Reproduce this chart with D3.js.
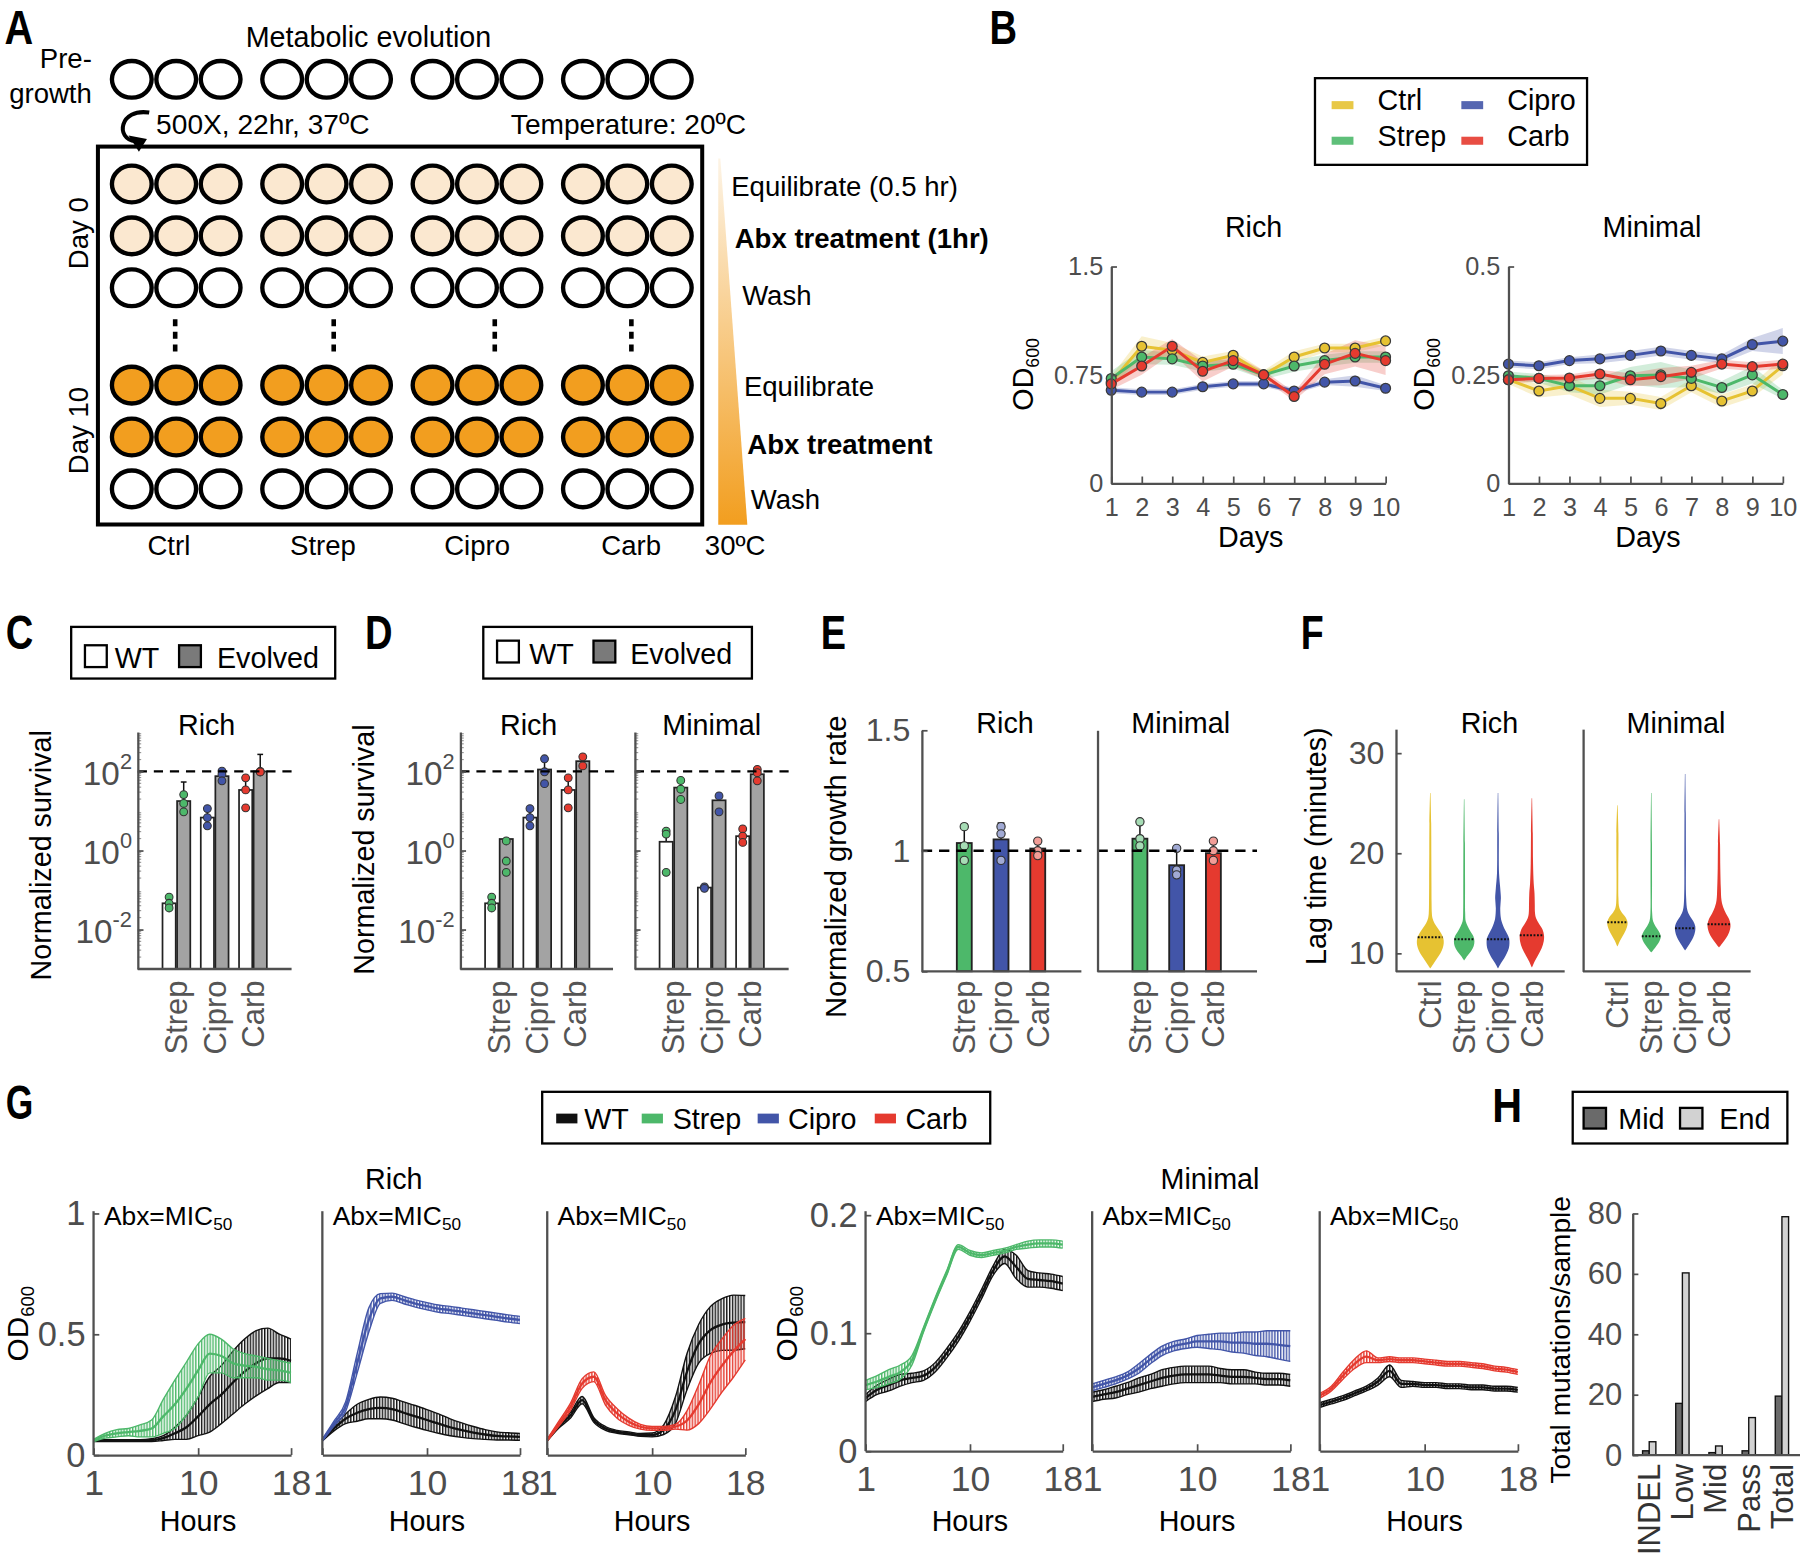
<!DOCTYPE html>
<html><head><meta charset="utf-8">
<script src="https://cdn.jsdelivr.net/npm/d3@7"></script>
<style>
body{margin:0;background:#fff;}
svg{display:block;}
</style></head><body>
<script>
// ================= DATA =================
// Panel A (schematic)
const aGroups=["Ctrl","Strep","Cipro","Carb"];
const aStepLabels=["Equilibrate (0.5 hr)","Abx treatment (1hr)","Wash","Equilibrate","Abx treatment","Wash"];
const aStepBold=[false,true,false,false,true,false];
const aStepFill=["#fbe8d0","#fbe8d0","#ffffff","#f29e1f","#f29e1f","#ffffff"];
const aDayLabels=["Day 0","Day 10"];

// Panel B
const days=[1,2,3,4,5,6,7,8,9,10];
const series4=["Ctrl","Strep","Cipro","Carb"];
const bRichCtrl =[0.70,0.948,0.92,0.837,0.886,0.75,0.874,0.936,0.936,0.985];
const bRichStrep=[0.725,0.874,0.861,0.812,0.824,0.75,0.812,0.849,0.874,0.874];
const bRichCipro=[0.644,0.631,0.631,0.668,0.688,0.688,0.639,0.70,0.708,0.658];
const bRichCarb =[0.688,0.812,0.948,0.775,0.849,0.75,0.601,0.824,0.899,0.849];
const bRichCtrlErr =[0.04,0.07,0.05,0.04,0.03,0.03,0.04,0.03,0.03,0.03];
const bRichStrepErr=[0.05,0.05,0.04,0.04,0.03,0.03,0.04,0.04,0.04,0.04];
const bRichCiproErr=[0.02,0.02,0.02,0.02,0.02,0.02,0.02,0.02,0.04,0.02];
const bRichCarbErr =[0.04,0.06,0.05,0.07,0.04,0.03,0.03,0.07,0.09,0.10];
const bMinCtrl =[0.239,0.213,0.225,0.196,0.196,0.184,0.225,0.19,0.213,0.271];
const bMinStrep=[0.248,0.242,0.225,0.225,0.248,0.25,0.242,0.221,0.25,0.205];
const bMinCipro=[0.275,0.271,0.283,0.287,0.295,0.305,0.295,0.287,0.32,0.328];
const bMinCarb =[0.239,0.242,0.243,0.252,0.239,0.246,0.256,0.275,0.269,0.275];
const bMinCtrlErr =[0.01,0.015,0.02,0.02,0.015,0.015,0.015,0.015,0.015,0.02];
const bMinStrepErr=[0.01,0.01,0.015,0.02,0.02,0.03,0.02,0.015,0.02,0.01];
const bMinCiproErr=[0.008,0.008,0.008,0.01,0.01,0.01,0.01,0.01,0.015,0.03];
const bMinCarbErr =[0.008,0.008,0.008,0.01,0.015,0.02,0.015,0.01,0.01,0.01];

// Panels C, D (normalized survival, log scale)
const abx3=["Strep","Cipro","Carb"];
const cRichWT=[0.046,6.8,34], cRichEvo=[17.8,76,100];
const cRichWTErr=[0.06,11,70], cRichEvoErr=[54,100,270];
const cRichWTDots=[[0.066,0.046,0.035],[11.5,6.8,4.2],[69,34,12]];
const cRichEvoDots=[[26,15.5,9.5],[102,85,58],[98,100,97]];
const dRichWT=[0.046,6.8,34], dRichEvo=[1.95,112,182];
const dRichWTErr=[0.06,11,70], dRichEvoErr=[1.9,230,240];
const dRichWTDots=[[0.066,0.046,0.035],[11.5,6.8,4.2],[69,34,12]];
const dRichEvoDots=[[1.74,0.54,0.28],[209,98,49],[234,138]];
const dMinWT=[1.66,0.115,2.3], dMinEvo=[39,18.6,85];
const dMinWTErr=[3.3,0.125,3.6], dMinEvoErr=[60,25,115];
const dMinWTDots=[[3.1,2.6,0.28],[0.12,0.11],[3.5,2.3,1.6]];
const dMinEvoDots=[[59,35.5,19.5],[24,9.5],[112,93,58]];

// Panel E (normalized growth rate)
const eRich=[1.032,1.047,1.009], eRichErr=[1.11,1.115,1.035];
const eRichDots=[[1.10,1.02,0.96],[1.10,1.07,0.96],[1.04,1.0,0.98]];
const eMin=[1.05,0.94,0.99], eMinErr=[1.12,1.01,1.04];
const eMinDots=[[1.12,1.05,1.02],[1.01,0.92,0.90],[1.04,1.0,0.96]];

// Panel F (lag time violins: [minutes, relative density])
const fRichCtrl=[[8.5,0],[9,0.25],[9.5,0.5],[10,0.75],[10.5,0.92],[11,1],[11.5,0.97],[12,0.8],[12.5,0.55],[13,0.3],[13.5,0.15],[14,0.1],[15,0.08],[17,0.07],[20,0.06],[23,0.05],[26,0]];
const fRichStrep=[[9.3,0],[9.7,0.2],[10.2,0.5],[10.7,0.7],[11.2,0.76],[11.7,0.68],[12.2,0.45],[12.7,0.25],[13.2,0.1],[14,0.06],[17,0.05],[21,0.04],[25.4,0]];
const fRichCipro=[[8.5,0],[9,0.2],[9.5,0.45],[10,0.65],[10.5,0.8],[11,0.85],[11.5,0.82],[12,0.65],[12.5,0.45],[13,0.3],[13.5,0.2],[14.5,0.15],[15.5,0.2],[16.5,0.15],[18,0.06],[22,0.04],[26,0]];
const fRichCarb=[[8.6,0],[9.2,0.2],[9.8,0.45],[10.5,0.72],[11.2,0.88],[11.8,0.9],[12.4,0.78],[13,0.5],[13.5,0.3],[14,0.22],[15,0.2],[16,0.18],[17,0.12],[19,0.07],[22,0.05],[25.5,0]];
const fMinCtrl=[[10.7,0],[11.3,0.2],[12,0.5],[12.6,0.7],[13.1,0.75],[13.6,0.6],[14.1,0.3],[14.6,0.12],[15.5,0.06],[18,0.05],[22,0.06],[24.8,0]];
const fMinStrep=[[10.1,0],[10.6,0.3],[11.2,0.6],[11.7,0.7],[12.2,0.55],[12.7,0.3],[13.2,0.12],[14,0.05],[17,0.04],[21,0.035],[26,0]];
const fMinCipro=[[10.3,0],[10.9,0.3],[11.6,0.6],[12.2,0.74],[12.7,0.75],[13.2,0.6],[13.7,0.35],[14.3,0.15],[15.5,0.06],[20,0.04],[24,0.03],[27.9,0]];
const fMinCarb=[[10.6,0],[11.2,0.35],[11.8,0.65],[12.4,0.82],[12.9,0.85],[13.4,0.75],[14,0.5],[14.6,0.3],[15.3,0.17],[16.5,0.12],[18.5,0.08],[21,0.06],[23.4,0]];
const fRichMedian=[11.6,11.4,11.4,11.8];
const fMinMedian=[13.1,11.7,12.5,12.9];

// Panel G (growth curves, hourly means and error half-widths)
const hours=[1,2,3,4,5,6,7,8,9,10,11,12,13,14,15,16,17,18];
const gRichStrepWT=[0.06,0.06,0.06,0.06,0.06,0.062,0.07,0.09,0.115,0.16,0.21,0.25,0.30,0.345,0.38,0.40,0.40,0.39];
const gRichStrepWTErr=[0.004,0.004,0.004,0.004,0.004,0.006,0.01,0.025,0.05,0.08,0.115,0.12,0.13,0.135,0.135,0.125,0.10,0.09];
const gRichStrep=[0.06,0.08,0.09,0.095,0.10,0.11,0.16,0.21,0.275,0.35,0.42,0.41,0.38,0.37,0.365,0.355,0.35,0.34];
const gRichStrepErr=[0.005,0.01,0.015,0.015,0.025,0.035,0.07,0.10,0.11,0.11,0.08,0.07,0.06,0.05,0.045,0.045,0.04,0.04];
const gRichCiproWT=[0.062,0.11,0.15,0.175,0.19,0.195,0.19,0.175,0.16,0.145,0.13,0.115,0.103,0.093,0.085,0.079,0.077,0.075];
const gRichCiproWTErr=[0.004,0.01,0.02,0.035,0.04,0.045,0.045,0.045,0.045,0.043,0.04,0.035,0.03,0.025,0.02,0.017,0.015,0.014];
const gRichCipro=[0.062,0.13,0.2,0.38,0.559,0.648,0.655,0.641,0.627,0.616,0.606,0.6,0.593,0.586,0.579,0.572,0.565,0.559];
const gRichCiproErr=[0.004,0.01,0.02,0.04,0.05,0.02,0.015,0.015,0.015,0.015,0.015,0.015,0.015,0.015,0.015,0.015,0.015,0.015];
const gRichCarbWT=[0.062,0.12,0.165,0.227,0.145,0.11,0.096,0.09,0.083,0.083,0.105,0.185,0.345,0.46,0.517,0.54,0.548,0.55];
const gRichCarbWTErr=[0.004,0.008,0.012,0.015,0.01,0.008,0.006,0.006,0.006,0.008,0.02,0.055,0.075,0.08,0.097,0.107,0.114,0.11];
const gRichCarb=[0.062,0.13,0.2,0.296,0.324,0.227,0.172,0.138,0.117,0.11,0.11,0.117,0.143,0.21,0.30,0.37,0.43,0.48];
const gRichCarbErr=[0.004,0.01,0.015,0.02,0.02,0.02,0.02,0.015,0.01,0.008,0.008,0.01,0.04,0.08,0.11,0.11,0.107,0.086];
const gMinStrepWT=[0.045,0.052,0.056,0.06,0.062,0.064,0.071,0.083,0.097,0.114,0.133,0.153,0.165,0.156,0.146,0.145,0.144,0.142];
const gMinStrepWTErr=[0.003,0.004,0.005,0.005,0.004,0.004,0.004,0.004,0.004,0.004,0.004,0.004,0.006,0.01,0.007,0.006,0.006,0.006];
const gMinStrep=[0.056,0.059,0.063,0.067,0.077,0.103,0.128,0.151,0.173,0.168,0.166,0.168,0.17,0.173,0.175,0.176,0.176,0.175];
const gMinStrepErr=[0.004,0.005,0.006,0.006,0.004,0.002,0.002,0.002,0.002,0.002,0.002,0.002,0.002,0.002,0.003,0.003,0.003,0.003];
const gMinCiproWT=[0.046,0.048,0.05,0.053,0.056,0.059,0.062,0.064,0.065,0.065,0.065,0.064,0.063,0.063,0.062,0.061,0.061,0.06];
const gMinCiproWTErr=[0.004,0.004,0.005,0.005,0.006,0.006,0.007,0.007,0.007,0.007,0.007,0.006,0.006,0.006,0.005,0.005,0.005,0.005];
const gMinCipro=[0.054,0.057,0.06,0.064,0.07,0.078,0.085,0.089,0.091,0.093,0.093,0.093,0.092,0.092,0.091,0.091,0.09,0.089];
const gMinCiproErr=[0.003,0.003,0.003,0.003,0.004,0.004,0.004,0.004,0.004,0.005,0.006,0.007,0.008,0.009,0.01,0.011,0.012,0.013];
const gMinCarbWT=[0.039,0.042,0.045,0.049,0.053,0.059,0.068,0.057,0.057,0.056,0.056,0.055,0.055,0.054,0.054,0.053,0.053,0.052];
const gMinCarbWTErr=[0.002,0.002,0.002,0.002,0.002,0.003,0.005,0.003,0.002,0.002,0.002,0.002,0.002,0.002,0.002,0.002,0.002,0.002];
const gMinCarb=[0.047,0.053,0.064,0.074,0.08,0.077,0.078,0.077,0.077,0.076,0.075,0.074,0.074,0.073,0.072,0.07,0.069,0.067];
const gMinCarbErr=[0.002,0.002,0.003,0.004,0.005,0.002,0.002,0.002,0.002,0.002,0.002,0.002,0.002,0.002,0.002,0.002,0.002,0.002];

// Panel H (mutations)
const hCats=["INDEL","Low","Mid","Pass","Total"];
const hMid=[1.4,17.1,0.8,1.4,19.5];
const hEnd=[4.4,60.3,3.0,12.4,78.9];

// ================= STYLE =================
const FONT="'Liberation Sans', Arial, Helvetica, sans-serif";
const colors={Ctrl:"#e6c232",Strep:"#4db86a",Cipro:"#4255a8",Carb:"#e53a2f",WT:"#111111"};
const TICK="#4d4d4d", AX="#505050";

const svg=d3.select("body").append("svg").attr("width",1800).attr("height",1558)
  .attr("viewBox","0 0 1568 1357").style("font-family",FONT);
svg.append("rect").attr("width",1568).attr("height",1357).attr("fill","#fff");
const defs=svg.append("defs");

function text(g,x,y,s,fs,o={}){
  const t=g.append("text").attr("x",x).attr("y",y).attr("font-size",fs).text(s);
  if(o.anchor) t.attr("text-anchor",o.anchor);
  t.attr("fill",o.fill||"#000");
  if(o.weight) t.attr("font-weight",o.weight);
  return t;
}
function vtext(g,x,y,s,fs,o={}){
  const t=g.append("text").attr("transform",`translate(${x},${y}) rotate(-90)`)
    .attr("text-anchor",o.anchor||"middle").attr("dy",o.dy||"0.35em").attr("font-size",fs)
    .attr("fill",o.fill||"#000").text(s);
  return t;
}
function styleAxis(sel,fs,col){
  sel.attr("font-size",null).attr("font-family",null);
  sel.select(".domain").attr("stroke",AX).attr("stroke-width",2);
  sel.selectAll(".tick line").attr("stroke",AX).attr("stroke-width",1.5);
  sel.selectAll(".tick text").attr("fill",col||TICK).attr("font-size",fs);
}
function letter(ch,x,y,w){
  svg.append("text").attr("x",x).attr("y",y).attr("font-size",42).attr("font-weight","bold")
    .attr("textLength",w).attr("lengthAdjust","spacingAndGlyphs").attr("fill","#000").text(ch);
}
function odLabel(g,x,y,fs){
  const t=g.append("text").attr("transform",`translate(${x},${y}) rotate(-90)`)
    .attr("text-anchor","middle").attr("dy","0.35em").attr("font-size",fs).attr("fill","#000");
  t.append("tspan").text("OD");
  t.append("tspan").attr("font-size",fs*0.62).attr("dy",fs*0.22).text("600");
}
function catLabels(g,cats,xf,y0,fs,fill){
  cats.forEach(c=>vtext(g,xf(c),y0,c,fs,{anchor:"end",fill:fill}));
}

// ================= PANEL A =================
letter("A",4,38,25);
(function(){
  const g=svg.append("g");
  const gx=d3.scaleBand().domain(aGroups).range([88,612]);
  const lx=d3.scaleBand().domain(aGroups).range([80,617]);
  const wellX=(grp,k)=>gx(grp)+gx.bandwidth()/2+(k-1)*38.7;
  const rowY=i=>(i<3?160.2:335.4)+(i%3)*45.2;
  text(g,321,41,"Metabolic evolution",25,{anchor:"middle"});
  text(g,80,59,"Pre-",24,{anchor:"end"});
  text(g,80,90,"growth",24,{anchor:"end"});
  aGroups.forEach(grp=>[0,1,2].forEach(k=>{
    g.append("ellipse").attr("cx",wellX(grp,k)).attr("cy",69).attr("rx",17.3).attr("ry",16)
      .attr("fill","#fff").attr("stroke","#000").attr("stroke-width",3.8);
  }));
  g.append("path").attr("d","M130,98 C104,94 100,121 118,123").attr("fill","none").attr("stroke","#000").attr("stroke-width",3.5);
  g.append("path").attr("d","M112,118 L128,121 L121,132 Z").attr("fill","#000");
  text(g,136,117,"500X, 22hr, 37ºC",24.5);
  text(g,445,117,"Temperature: 20ºC",24.5);
  g.append("rect").attr("x",85.3).attr("y",127.6).attr("width",526.4).attr("height",329.2)
    .attr("fill","none").attr("stroke","#000").attr("stroke-width",3.5);
  aStepFill.forEach((f,i)=>{
    aGroups.forEach(grp=>[0,1,2].forEach(k=>{
      g.append("ellipse").attr("cx",wellX(grp,k)).attr("cy",rowY(i)).attr("rx",17.3).attr("ry",16)
        .attr("fill",f).attr("stroke","#000").attr("stroke-width",3.8);
    }));
  });
  [152.6,290.7,431,550].forEach(x=>{
    g.append("line").attr("x1",x).attr("x2",x).attr("y1",278).attr("y2",307)
      .attr("stroke","#000").attr("stroke-width",4).attr("stroke-dasharray","6,5");
  });
  vtext(g,68,203,aDayLabels[0],24);
  vtext(g,68,375,aDayLabels[1],24);
  const grad=defs.append("linearGradient").attr("id","wedge").attr("x1",0).attr("y1",0).attr("x2",0).attr("y2",1);
  grad.append("stop").attr("offset","0%").attr("stop-color","#fdf4e6");
  grad.append("stop").attr("offset","100%").attr("stop-color","#f29e1f");
  g.append("path").attr("d","M625.7,138 L627.5,138 L651,457 L625.7,457 Z").attr("fill","url(#wedge)");
  const sx=[637,640,646.5,648,651,654], sy=[171,216,266,345,395,443];
  aStepLabels.forEach((s,i)=>text(g,sx[i],sy[i],s,24,{weight:aStepBold[i]?"bold":null}));
  aGroups.forEach(grp=>text(g,lx(grp)+lx.bandwidth()/2,483,grp,24,{anchor:"middle"}));
  text(g,614,483,"30ºC",24);
})();

// ================= PANEL B =================
letter("B",862,38,24);
(function(){
  const g=svg.append("g");
  g.append("rect").attr("x",1145.5).attr("y",68).attr("width",237).attr("height",75.5)
    .attr("fill","#fff").attr("stroke","#000").attr("stroke-width",2);
  const lg=[["Ctrl",1160,1200,96],["Strep",1160,1200,127],["Cipro",1273,1313,96],["Carb",1273,1313,127]];
  lg.forEach(([s,sx,tx,ty])=>{
    g.append("rect").attr("x",sx).attr("y",ty-8).attr("width",19).attr("height",7).attr("fill",colors[s]).attr("opacity",0.9);
    text(g,tx,ty,s,25);
  });
})();
function drawB(x0,x1,yDom,yTicks,yFmt,data,errs,title,titleX,odX){
  const g=svg.append("g");
  const x=d3.scaleLinear().domain([1,10]).range([x0,x1]);
  const y=d3.scaleLinear().domain(yDom).range([421,232]);
  series4.forEach((s,i)=>{
    const area=d3.area().x((d,j)=>x(days[j])).y0((d,j)=>y(d-errs[i][j])).y1((d,j)=>y(d+errs[i][j]));
    g.append("path").datum(data[i]).attr("d",area).attr("fill",colors[s]).attr("opacity",0.25);
  });
  series4.forEach((s,i)=>{
    const line=d3.line().x((d,j)=>x(days[j])).y(d=>y(d));
    g.append("path").datum(data[i]).attr("d",line).attr("fill","none").attr("stroke",colors[s]).attr("stroke-width",2.6);
    g.selectAll(null).data(data[i]).enter().append("circle").attr("cx",(d,j)=>x(days[j])).attr("cy",d=>y(d))
      .attr("r",4.3).attr("fill",colors[s]).attr("stroke","#3a3a3a").attr("stroke-width",1.1);
  });
  const ya=g.append("g").attr("transform",`translate(${x0},0)`)
    .call(d3.axisLeft(y).tickValues(yTicks).tickFormat((d,i)=>yFmt[i]).tickSize(-5).tickSizeOuter(0).tickPadding(7));
  styleAxis(ya,22);
  const xa=g.append("g").attr("transform","translate(0,421)")
    .call(d3.axisBottom(x).tickValues(days).tickSize(-6).tickSizeOuter(0).tickPadding(13));
  styleAxis(xa,22);
  text(g,titleX,206,title,25,{anchor:"middle"});
  text(g,(x0+x1)/2+2,476,"Days",25,{anchor:"middle"});
  odLabel(g,odX,326,25);
}
drawB(968,1207,[0,1.5],[0,0.75,1.5],["0","0.75","1.5"],
  [bRichCtrl,bRichStrep,bRichCipro,bRichCarb],[bRichCtrlErr,bRichStrepErr,bRichCiproErr,bRichCarbErr],"Rich",1092,891);
drawB(1314,1553,[0,0.5],[0,0.25,0.5],["0","0.25","0.5"],
  [bMinCtrl,bMinStrep,bMinCipro,bMinCarb],[bMinCtrlErr,bMinStrepErr,bMinCiproErr,bMinCarbErr],"Minimal",1439,1240);

// ================= PANELS C, D =================
letter("C",5,565,24);
letter("D",318,565,24);
function survLegend(bx,bw,sq1,t1,sq2,t2,by){
  const g=svg.append("g");
  g.append("rect").attr("x",bx).attr("y",546).attr("width",bw).attr("height",45).attr("fill","#fff").attr("stroke","#000").attr("stroke-width",2);
  g.append("rect").attr("x",sq1).attr("y",by-20).attr("width",19).attr("height",19).attr("fill","#fff").attr("stroke","#000").attr("stroke-width",2);
  text(g,t1,by,"WT",25);
  g.append("rect").attr("x",sq2).attr("y",by-20).attr("width",19).attr("height",19).attr("fill","#7a7a7a").attr("stroke","#000").attr("stroke-width",2);
  text(g,t2,by,"Evolved",25);
}
survLegend(62,230,74,100,156,189,582);
survLegend(421,234,433,461,517,549,578);
const ySurv=d3.scaleLog().domain([1e-3,1e3]).range([844,637.5]);
function errBar(g,x,y1,y2,cap){
  g.append("line").attr("x1",x).attr("x2",x).attr("y1",y1).attr("y2",y2).attr("stroke","#111").attr("stroke-width",1.3);
  g.append("line").attr("x1",x-cap).attr("x2",x+cap).attr("y1",y2).attr("y2",y2).attr("stroke","#111").attr("stroke-width",1.3);
}
function drawSurv(x0,x1,wt,evo,wtE,evoE,wtD,evoD,title,showY){
  const g=svg.append("g");
  const y=ySurv;
  const xb=d3.scaleBand().domain(abx3).range([x0+17,x0+117]);
  const cx=c=>xb(c)+xb.bandwidth()/2;
  const bw=11.5;
  abx3.forEach((c,i)=>{
    const xw=cx(c)-bw-0.6, xe=cx(c)+0.6;
    errBar(g,xw+bw/2,y(wt[i]),y(wtE[i]),2.5);
    errBar(g,xe+bw/2,y(evo[i]),y(evoE[i]),2.5);
    g.append("rect").attr("x",xw).attr("y",y(wt[i])).attr("width",bw).attr("height",y(1e-3)-y(wt[i]))
      .attr("fill","#fff").attr("stroke","#222").attr("stroke-width",1.5);
    g.append("rect").attr("x",xe).attr("y",y(evo[i])).attr("width",bw).attr("height",y(1e-3)-y(evo[i]))
      .attr("fill","#a3a3a3").attr("stroke","#222").attr("stroke-width",1.5);
    wtD[i].forEach(v=>g.append("circle").attr("cx",xw+bw/2).attr("cy",y(v)).attr("r",3.4).attr("fill",colors[c]).attr("stroke","#333").attr("stroke-width",0.9));
    evoD[i].forEach(v=>g.append("circle").attr("cx",xe+bw/2).attr("cy",y(v)).attr("r",3.4).attr("fill",colors[c]).attr("stroke","#333").attr("stroke-width",0.9));
  });
  g.append("line").attr("x1",x0).attr("x2",x1+3).attr("y1",y(100)).attr("y2",y(100))
    .attr("stroke","#000").attr("stroke-width",2).attr("stroke-dasharray","8,6");
  for(let k=-3;k<3;k++) for(let m=2;m<10;m++){
    const v=m*Math.pow(10,k);
    g.append("line").attr("x1",x0).attr("x2",x0+3).attr("y1",y(v)).attr("y2",y(v)).attr("stroke","#999").attr("stroke-width",1);
  }
  const ya=g.append("g").attr("transform",`translate(${x0},0)`)
    .call(d3.axisLeft(y).tickValues([1e-2,1,1e2]).tickFormat("").tickSize(-5).tickSizeOuter(0));
  styleAxis(ya,26);
  g.append("line").attr("x1",x0).attr("x2",x1).attr("y1",y(1e-3)).attr("y2",y(1e-3)).attr("stroke",AX).attr("stroke-width",2);
  if(showY){
    [[1e-2,"-2"],[1,"0"],[1e2,"2"]].forEach(([v,e])=>{
      const t=g.append("text").attr("x",x0-5).attr("y",y(v)).attr("dy","0.42em").attr("text-anchor","end")
        .attr("font-size",29).attr("fill",TICK);
      t.append("tspan").text("10");
      t.append("tspan").attr("font-size",19).attr("dy","-0.75em").text(e);
    });
  }
  text(g,(x0+x1)/2+(showY?-7:0),640,title,25,{anchor:"middle"});
  catLabels(g,abx3,cx,854,27,"#555");
}
drawSurv(120,254,cRichWT,cRichEvo,cRichWTErr,cRichEvoErr,cRichWTDots,cRichEvoDots,"Rich",true);
vtext(svg,36,745,"Normalized survival",25);
drawSurv(401,534,dRichWT,dRichEvo,dRichWTErr,dRichEvoErr,dRichWTDots,dRichEvoDots,"Rich",true);
drawSurv(553,687,dMinWT,dMinEvo,dMinWTErr,dMinEvoErr,dMinWTDots,dMinEvoDots,"Minimal",false);
vtext(svg,317,740,"Normalized survival",25);

// ================= PANEL E =================
letter("E",715,565,22);
const yE=d3.scaleLinear().domain([0.5,1.5]).range([846,636]);
function drawE(x0,x1,vals,errs,dots,title,showY){
  const g=svg.append("g");
  const y=yE;
  const xb=d3.scaleBand().domain(abx3).range([x0+21,x0+117]);
  const cx=c=>xb(c)+xb.bandwidth()/2;
  const bw=13;
  abx3.forEach((c,i)=>{
    errBar(g,cx(c),y(vals[i]),y(errs[i]),3);
    g.append("rect").attr("x",cx(c)-bw/2).attr("y",y(vals[i])).attr("width",bw).attr("height",y(0.5)-y(vals[i]))
      .attr("fill",colors[c]).attr("stroke","#222").attr("stroke-width",1.6);
    const light=d3.interpolateRgb(colors[c],"#fff")(0.5);
    dots[i].forEach(v=>g.append("circle").attr("cx",cx(c)).attr("cy",y(v)).attr("r",3.6).attr("fill",light).attr("stroke","#333").attr("stroke-width",1));
  });
  g.append("line").attr("x1",x0).attr("x2",x1).attr("y1",y(1)).attr("y2",y(1))
    .attr("stroke","#000").attr("stroke-width",2).attr("stroke-dasharray","9,6");
  const ya=g.append("g").attr("transform",`translate(${x0},0)`)
    .call(d3.axisLeft(y).tickValues([0.5,1,1.5]).tickFormat(showY?d3.format(""):"").tickSize(-5).tickSizeOuter(0).tickPadding(10));
  styleAxis(ya,28);
  if(!showY) ya.selectAll(".tick line").remove();
  g.append("line").attr("x1",x0).attr("x2",x1).attr("y1",y(0.5)).attr("y2",y(0.5)).attr("stroke",AX).attr("stroke-width",2);
  text(g,(x0+x1)/2+3,638,title,25,{anchor:"middle"});
  catLabels(g,abx3,cx,854,27,"#555");
}
drawE(803,942,eRich,eRichErr,eRichDots,"Rich",true);
drawE(956,1095,eMin,eMinErr,eMinDots,"Minimal",false);
vtext(svg,728,755,"Normalized growth rate",25.5);

// ================= PANEL F =================
letter("F",1133,565,20);
const yF=d3.scaleLinear().domain([8.2,32.4]).range([846,635]);
const wF=d3.scaleLinear().domain([0,1]).range([0,11.5]);
function drawF(x0,x1,profiles,medians,title,showY){
  const g=svg.append("g");
  const y=yF;
  const xb=d3.scaleBand().domain(series4).range([x0+15,x0+133]);
  const cx=c=>xb(c)+xb.bandwidth()/2;
  series4.forEach((c,i)=>{
    const c0=cx(c);
    const area=d3.area().curve(d3.curveCatmullRom).y(d=>y(d[0])).x0(d=>c0-wF(d[1])).x1(d=>c0+wF(d[1])+0.4);
    g.append("path").datum(profiles[i]).attr("d",area).attr("fill",colors[c]);
    const prof=profiles[i];
    let w=0; for(let k=0;k<prof.length-1;k++){ if(prof[k][0]<=medians[i]&&prof[k+1][0]>=medians[i]){const t=(medians[i]-prof[k][0])/(prof[k+1][0]-prof[k][0]); w=prof[k][1]+t*(prof[k+1][1]-prof[k][1]);} }
    g.append("line").attr("x1",c0-wF(w)).attr("x2",c0+wF(w)).attr("y1",y(medians[i])).attr("y2",y(medians[i]))
      .attr("stroke","#111").attr("stroke-width",1.6).attr("stroke-dasharray","1.6,1.4");
  });
  const ya=g.append("g").attr("transform",`translate(${x0},0)`)
    .call(d3.axisLeft(y).tickValues([10,20,30]).tickFormat(showY?d3.format("d"):"").tickSize(showY?-5:0).tickSizeOuter(0).tickPadding(10));
  styleAxis(ya,28);
  g.append("line").attr("x1",x0).attr("x2",x1).attr("y1",846).attr("y2",846).attr("stroke",AX).attr("stroke-width",2);
  text(g,(x0+x1)/2+8,638,title,25,{anchor:"middle"});
  catLabels(g,series4,cx,854,27,"#555");
}
drawF(1216,1363,[fRichCtrl,fRichStrep,fRichCipro,fRichCarb],fRichMedian,"Rich",true);
drawF(1379,1525,[fMinCtrl,fMinStrep,fMinCipro,fMinCarb],fMinMedian,"Minimal",false);
vtext(svg,1146,737,"Lag time (minutes)",25);

// ================= PANEL G =================
letter("G",5,975,24);
(function(){
  const g=svg.append("g");
  g.append("rect").attr("x",472.3).attr("y",951).attr("width",390.3).attr("height",45).attr("fill","#fff").attr("stroke","#000").attr("stroke-width",2);
  const lg=[["WT",484.5,509],["Strep",559,586],["Cipro",660,686.4],["Carb",762,788.7]];
  lg.forEach(([s,sx,tx])=>{
    g.append("rect").attr("x",sx).attr("y",970).attr("width",18.5).attr("height",8.5).attr("fill",colors[s]);
    text(g,tx,983,s,25);
  });
  text(g,343,1036,"Rich",25,{anchor:"middle"});
  text(g,1054,1036,"Minimal",25,{anchor:"middle"});
})();
function hatch(id,color){
  const p=defs.append("pattern").attr("id",id).attr("patternUnits","userSpaceOnUse").attr("width",2.5).attr("height",20);
  p.append("rect").attr("x",0).attr("y",0).attr("width",1.25).attr("height",20).attr("fill",color);
}
hatch("hWT","#111"); hatch("hStrep",colors.Strep); hatch("hCipro",colors.Cipro); hatch("hCarb",colors.Carb);
const yGR=d3.scaleLinear().domain([0,1]).range([1267.4,1056.9]);
const yGM=d3.scaleLinear().domain([0,0.2]).range([1264,1058.4]);
function drawG(x0,x1,y,series,yTicks,yFmt){
  const g=svg.append("g");
  const x=d3.scaleLinear().domain([1,18]).range([x0,x1]);
  series.forEach(s=>{
    const col=colors[s.name];
    const area=d3.area().curve(d3.curveMonotoneX).x((d,i)=>x(hours[i])).y0((d,i)=>y(d-s.err[i])).y1((d,i)=>y(d+s.err[i]));
    g.append("path").datum(s.mean).attr("d",area).attr("fill",`url(#h${s.name})`);
    const lo=d3.line().curve(d3.curveMonotoneX).x((d,i)=>x(hours[i])).y((d,i)=>y(d-s.err[i]));
    const hi=d3.line().curve(d3.curveMonotoneX).x((d,i)=>x(hours[i])).y((d,i)=>y(d+s.err[i]));
    const mid=d3.line().curve(d3.curveMonotoneX).x((d,i)=>x(hours[i])).y(d=>y(d));
    g.append("path").datum(s.mean).attr("d",lo).attr("fill","none").attr("stroke",col).attr("stroke-width",1.2);
    g.append("path").datum(s.mean).attr("d",hi).attr("fill","none").attr("stroke",col).attr("stroke-width",1.2);
    g.append("path").datum(s.mean).attr("d",mid).attr("fill","none").attr("stroke",col).attr("stroke-width",2);
  });
  const ya=g.append("g").attr("transform",`translate(${x0},0)`)
    .call(d3.axisLeft(y).tickValues(yTicks||[]).tickFormat((d,i)=>yFmt?yFmt[i]:"").tickSize(-5).tickSizeOuter(0).tickPadding(7));
  styleAxis(ya,30);
  g.select(".domain").remove();
  g.append("line").attr("x1",x0).attr("x2",x0).attr("y1",y.range()[0]).attr("y2",1055).attr("stroke",AX).attr("stroke-width",2);
  const xa=g.append("g").attr("transform",`translate(0,${y.range()[0]})`)
    .call(d3.axisBottom(x).tickValues([1,10,18]).tickFormat(d3.format("d")).tickSize(-6).tickSizeOuter(0).tickPadding(13));
  styleAxis(xa,31);
  text(g,x(10),1334,"Hours",25,{anchor:"middle"});
  const t=text(g,x0+9,1067,"Abx=MIC",23);
  t.append("tspan").attr("font-size",15).attr("dy",4).text("50");
}
drawG(81.5,253.5,yGR,[{name:"WT",mean:gRichStrepWT,err:gRichStrepWTErr},{name:"Strep",mean:gRichStrep,err:gRichStrepErr}],[0,0.5,1],["0","0.5","1"]);
drawG(280.8,452.9,yGR,[{name:"WT",mean:gRichCiproWT,err:gRichCiproWTErr},{name:"Cipro",mean:gRichCipro,err:gRichCiproErr}]);
drawG(476.7,649.2,yGR,[{name:"WT",mean:gRichCarbWT,err:gRichCarbWTErr},{name:"Carb",mean:gRichCarb,err:gRichCarbErr}]);
drawG(754,925.7,yGM,[{name:"WT",mean:gMinStrepWT,err:gMinStrepWTErr},{name:"Strep",mean:gMinStrep,err:gMinStrepErr}],[0,0.1,0.2],["0","0.1","0.2"]);
drawG(951.4,1124,yGM,[{name:"WT",mean:gMinCiproWT,err:gMinCiproWTErr},{name:"Cipro",mean:gMinCipro,err:gMinCiproErr}]);
drawG(1149.6,1322.2,yGM,[{name:"WT",mean:gMinCarbWT,err:gMinCarbWTErr},{name:"Carb",mean:gMinCarb,err:gMinCarbErr}]);
odLabel(svg,15,1153,26);
odLabel(svg,685,1153,26);

// ================= PANEL H =================
letter("H",1300,977,26);
(function(){
  const g=svg.append("g");
  g.append("rect").attr("x",1370).attr("y",951).attr("width",187).attr("height",45).attr("fill","#fff").attr("stroke","#000").attr("stroke-width",2);
  g.append("rect").attr("x",1379.5).attr("y",965).attr("width",19.5).attr("height",18).attr("fill","#6a6a6a").attr("stroke","#000").attr("stroke-width",2);
  text(g,1409.7,983,"Mid",25);
  g.append("rect").attr("x",1463.5).attr("y",965).attr("width",19.5).attr("height",18).attr("fill","#d2d2d2").attr("stroke","#000").attr("stroke-width",2);
  text(g,1497.7,983,"End",25);
  const x=d3.scaleBand().domain(hCats).range([1422.2,1566.7]);
  const y=d3.scaleLinear().domain([0,80]).range([1267.4,1056.9]);
  const cx=c=>x(c)+x.bandwidth()/2;
  const bw=5.8;
  hCats.forEach((c,i)=>{
    g.append("rect").attr("x",cx(c)-bw).attr("y",y(hMid[i])).attr("width",bw).attr("height",y(0)-y(hMid[i]))
      .attr("fill","#6a6a6a").attr("stroke","#111").attr("stroke-width",1.2);
    g.append("rect").attr("x",cx(c)).attr("y",y(hEnd[i])).attr("width",bw).attr("height",y(0)-y(hEnd[i]))
      .attr("fill","#d2d2d2").attr("stroke","#111").attr("stroke-width",1.2);
  });
  const ya=g.append("g").attr("transform","translate(1422.2,0)")
    .call(d3.axisLeft(y).tickValues([0,20,40,60,80]).tickSize(-5).tickSizeOuter(0).tickPadding(9));
  styleAxis(ya,27);
  g.append("line").attr("x1",1422.2).attr("x2",1568).attr("y1",y(0)).attr("y2",y(0)).attr("stroke",AX).attr("stroke-width",2);
  catLabels(g,hCats,cx,1275,27,"#333");
  vtext(g,1359,1167,"Total mutations/sample",24.5);
})();
</script></body></html>
